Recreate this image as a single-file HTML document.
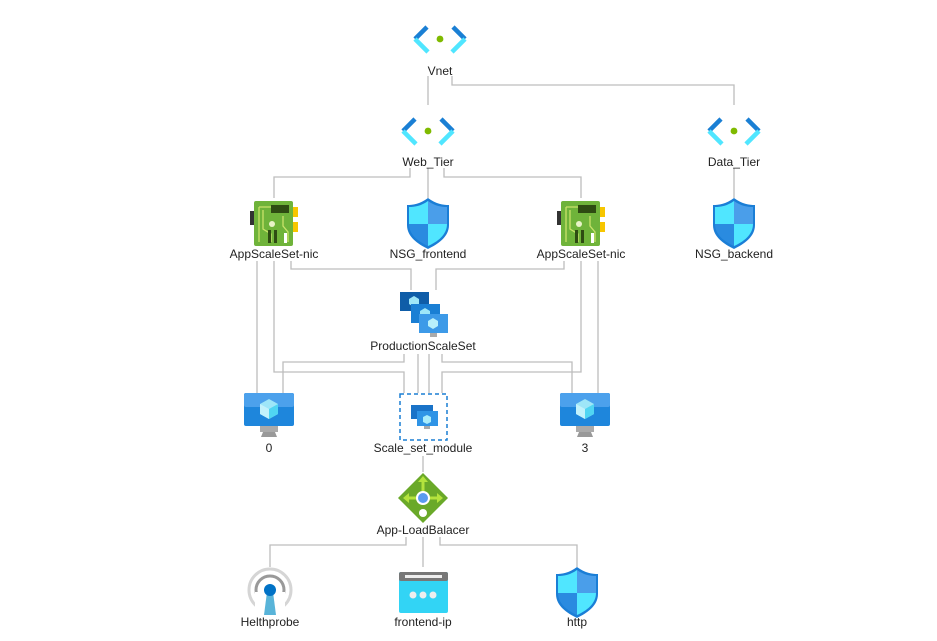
<!DOCTYPE html>
<html><head><meta charset="utf-8"><style>
html,body{margin:0;padding:0;background:#fff;width:937px;height:641px;overflow:hidden}
svg text{font-family:"Liberation Sans",sans-serif;font-size:12px;fill:#222;text-anchor:middle}
</style></head><body>
<svg width="937" height="641" viewBox="0 0 937 641" xmlns="http://www.w3.org/2000/svg">
<defs>
<g id="vnet">
 <path d="M-13,-14 L-25,-2" stroke="#1a7fd4" stroke-width="4.5" fill="none"/>
 <path d="M-25,-2 L-12,11" stroke="#50e6ff" stroke-width="4.5" fill="none"/>
 <path d="M13,-14 L25,-2" stroke="#1a7fd4" stroke-width="4.5" fill="none"/>
 <path d="M25,-2 L12,11" stroke="#50e6ff" stroke-width="4.5" fill="none"/>
 <circle cx="0" cy="-2" r="3.4" fill="#7fba00"/>
</g>
<g id="shield">
 <path d="M0,-25 C8,-19 15,-18 21,-18 L21,2 C21,14 10,21 0,26 C-10,21 -21,14 -21,2 L-21,-18 C-15,-18 -8,-19 0,-25Z" fill="#1b7ed6"/>
 <path d="M0,-22 C7,-17 13,-16 19,-16 L19,1 L0,1Z" fill="#4a9eea"/>
 <path d="M0,-22 C-7,-17 -13,-16 -19,-16 L-19,1 L0,1Z" fill="#50e6ff"/>
 <path d="M0,1 L19,1 C19,12 9,19 0,23Z" fill="#50e6ff"/>
 <path d="M0,1 L-19,1 C-19,12 -9,19 0,23Z" fill="#2a8be0"/>
</g>
<g id="nic">
 <rect x="-24" y="-13" width="4" height="14" fill="#333"/>
 <rect x="-20" y="-23" width="39" height="45" rx="2" fill="#6fb33a"/>
 <rect x="19" y="-17" width="5" height="10" fill="#f7c600"/>
 <rect x="19" y="-2" width="5" height="10" fill="#f7c600"/>
 <rect x="-3" y="-19" width="18" height="8" fill="#2e4b12"/>
 <path d="M-15,-17 V18 M-15,-17 H-3 M-11,-14 V5 L-3,10 V18 M9,-8 V2 L14,8 V18" stroke="#c9e26a" stroke-width="1.3" fill="none"/>
 <circle cx="-2" cy="0" r="3" fill="#e8f3c7"/>
 <rect x="-6" y="6" width="3" height="13" fill="#2e4b12"/>
 <rect x="0" y="6" width="3" height="13" fill="#2e4b12"/>
 <rect x="10" y="9" width="3" height="10" fill="#fff"/>
</g>
<g id="vm">
 <rect x="-25" y="-23" width="50" height="33" rx="2" fill="#1e86dc"/>
 <rect x="-25" y="-23" width="50" height="14" rx="2" fill="#4ca1ec"/>
 <path d="M-6,16 L6,16 L8,21 L-8,21Z" fill="#999"/>
 <rect x="-9" y="10" width="18" height="6" fill="#aaa"/>
 <path d="M0,-17 L9,-12 L9,-2 L0,3 L-9,-2 L-9,-12Z" fill="#9ee6f8"/>
 <path d="M0,-7 L9,-12 L9,-2 L0,3Z" fill="#50d5f2"/>
 <path d="M0,-7 L-9,-12 L-9,-2 L0,3Z" fill="#c2f2fc"/>
</g>
<g id="vms">
 <rect x="-12" y="-9" width="22" height="14" fill="#1a73c8"/>
 <rect x="-6" y="-3" width="21" height="15" fill="#2f94e6"/>
 <path d="M4,1 L8,3 L8,8 L4,10 L0,8 L0,3Z" fill="#a9ecfb"/>
 <rect x="1" y="12" width="6" height="3" fill="#aaa"/>
</g>
</defs>

<g stroke="#bdbdbd" stroke-width="1.3" fill="none">
 <path d="M428,76 V105"/>
 <path d="M452,76 V85 H734 V105"/>
 <path d="M410,168 V177 H274 V198"/>
 <path d="M428,168 V198"/>
 <path d="M444,168 V177 H581 V198"/>
 <path d="M734,168 V198"/>
 <path d="M257,261 V393"/>
 <path d="M274,261 V372 H404 V393"/>
 <path d="M291,261 V269 H411 V290"/>
 <path d="M598,261 V393"/>
 <path d="M581,261 V372 H442 V393"/>
 <path d="M564,261 V269 H436 V290"/>
 <path d="M404,354 V362 H283 V393"/>
 <path d="M418,354 V393"/>
 <path d="M429,354 V393"/>
 <path d="M442,354 V362 H572 V393"/>
 <path d="M423,456 V472"/>
 <path d="M406,537 V545 H270 V567"/>
 <path d="M423,537 V567"/>
 <path d="M440,537 V545 H577 V567"/>
</g>

<use href="#vnet" x="440" y="41"/>
<text x="440" y="75">Vnet</text>
<use href="#vnet" x="428" y="133"/>
<text x="428" y="166">Web_Tier</text>
<use href="#vnet" x="734" y="133"/>
<text x="734" y="166">Data_Tier</text>

<use href="#nic" x="274" y="224"/>
<text x="274" y="258">AppScaleSet-nic</text>
<use href="#shield" x="428" y="223"/>
<text x="428" y="258">NSG_frontend</text>
<use href="#nic" x="581" y="224"/>
<text x="581" y="258">AppScaleSet-nic</text>
<use href="#shield" x="734" y="223"/>
<text x="734" y="258">NSG_backend</text>

<g>
 <rect x="400" y="292" width="29" height="19" fill="#0f5da8"/>
 <path d="M414,296 L419,299 L419,304 L414,307 L409,304 L409,299Z" fill="#9ee6f8"/>
 <rect x="411" y="304" width="29" height="19" fill="#1a7fd4"/>
 <path d="M425,308 L430,311 L430,316 L425,319 L420,316 L420,311Z" fill="#9ee6f8"/>
 <rect x="419" y="314" width="29" height="19" fill="#3d9ae8"/>
 <path d="M433,318 L438,321 L438,326 L433,329 L428,326 L428,321Z" fill="#b8f0fb"/>
 <rect x="430" y="333" width="7" height="4" fill="#aaa"/>
</g>
<text x="423" y="350">ProductionScaleSet</text>

<use href="#vm" x="269" y="416"/>
<text x="269" y="452">0</text>
<rect x="400" y="394" width="47" height="46" fill="none" stroke="#1a7fd4" stroke-width="1.5" stroke-dasharray="4,3"/>
<use href="#vms" x="423" y="414"/>
<text x="423" y="452">Scale_set_module</text>
<use href="#vm" x="585" y="416"/>
<text x="585" y="452">3</text>

<g>
 <path d="M423,473 L448,498 L423,523 L398,498Z" fill="#6aa929"/>
 <path d="M423,478 V505 M406,498 H440" stroke="#b4e33d" stroke-width="3"/>
 <path d="M423,476 L418,482 L428,482Z" fill="#b4e33d"/>
 <path d="M403,498 L409,493 L409,503Z M443,498 L437,493 L437,503Z" fill="#b4e33d"/>
 <circle cx="423" cy="498" r="6" fill="#5a9bf0" stroke="#fff" stroke-width="2"/>
 <circle cx="423" cy="513" r="4" fill="#fff"/>
</g>
<text x="423" y="534">App-LoadBalacer</text>

<g>
 <circle cx="270" cy="590" r="21" fill="none" stroke="#d5d5d5" stroke-width="3"/>
 <circle cx="270" cy="590" r="14" fill="none" stroke="#999" stroke-width="3"/>
 <rect x="255" y="592" width="30" height="24" fill="#fff"/>
 <path d="M267,592 L273,592 L276,615 L264,615Z" fill="#59b4d9"/>
 <circle cx="270" cy="590" r="6" fill="#0072c6"/>
</g>
<text x="270" y="626">Helthprobe</text>
<g>
 <rect x="399" y="572" width="49" height="41" rx="2" fill="#32d4f5"/>
 <rect x="399" y="572" width="49" height="9" rx="2" fill="#777"/>
 <rect x="405" y="575" width="37" height="3" fill="#eee"/>
 <circle cx="413" cy="595" r="3.5" fill="#eee"/><circle cx="423" cy="595" r="3.5" fill="#eee"/><circle cx="433" cy="595" r="3.5" fill="#eee"/>
</g>
<text x="423" y="626">frontend-ip</text>
<use href="#shield" x="577" y="592"/>
<text x="577" y="626">http</text>
</svg>
</body></html>
